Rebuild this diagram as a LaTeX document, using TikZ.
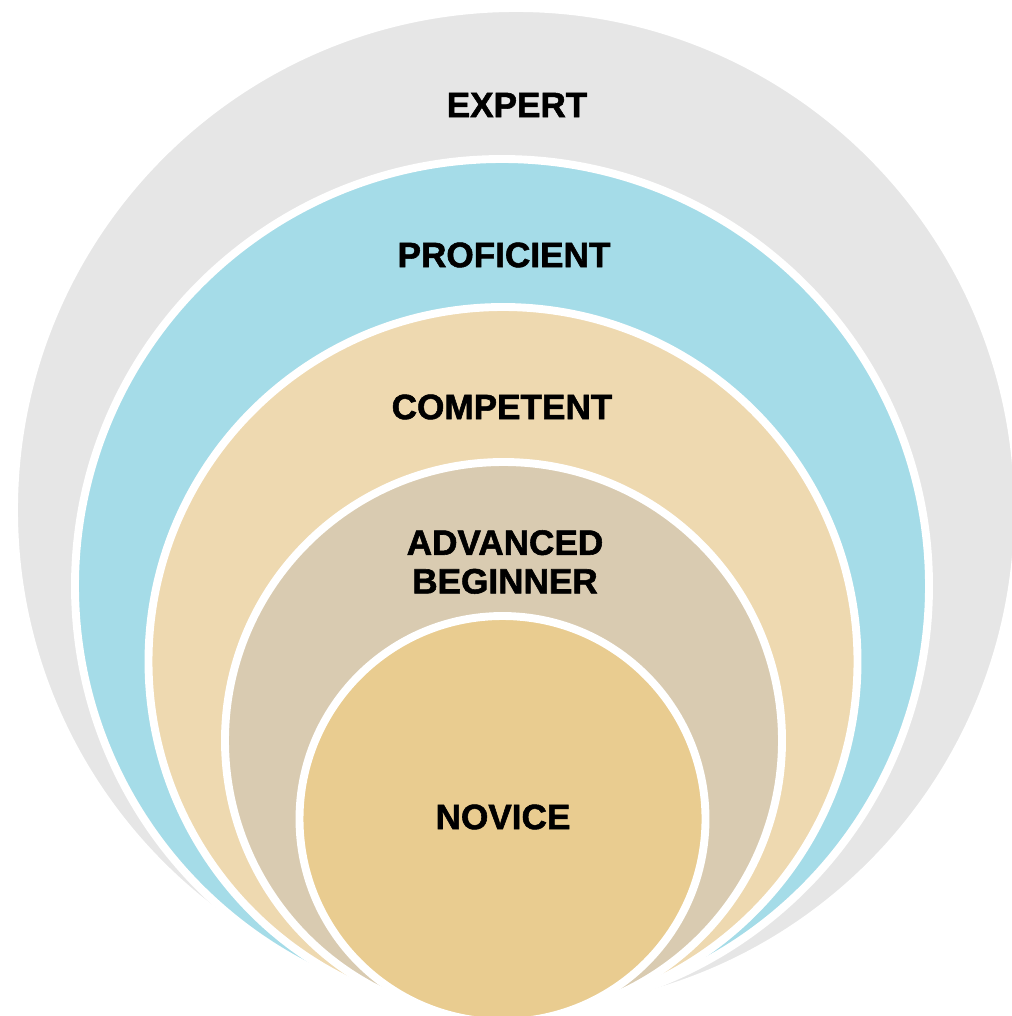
\documentclass[tikz,border=0pt]{standalone}
\usepackage{fontspec}
\setmainfont{Liberation Sans}[BoldFeatures={FakeBold=1.6}]
\usepackage{xcolor}

\definecolor{expertgray}{HTML}{E6E6E6}
\definecolor{proficientblue}{HTML}{A5DCE8}
\definecolor{competentbeige}{HTML}{EED9B0}
\definecolor{advancedlinen}{HTML}{D9CBB1}
\definecolor{novicegold}{HTML}{E9CC90}

\begin{document}
\begin{tikzpicture}[x={(0.02cm,0)},y={(0,-0.02cm)},ring/.style={draw=white,line width=4.5pt},lbl/.style={font=\bfseries\fontsize{20}{23}\selectfont,text=black,align=center,inner sep=0pt}]

            \useasboundingbox (0,0) rectangle (1011,1016);

            \fill[ring,fill=expertgray] (516,510) circle (502);
            \fill[ring,fill=proficientblue] (502,586) circle (427);
            \fill[ring,fill=competentbeige] (503,661.5) circle (354.5);
            \fill[ring,fill=advancedlinen] (503.5,740.5) circle (278.5);
            \fill[ring,fill=novicegold] (502.5,819) circle (203);

            \node[lbl] (expert) at (517,105) {EXPERT};
            \node[lbl] (proficient) at (504,255) {PROFICIENT};
            \node[lbl] (competent) at (502,407) {COMPETENT};
            \node[lbl] (advanced) at (505,562) {ADVANCED\\[-1pt]BEGINNER};
            \node[lbl] (novice) at (503,817) {NOVICE};

            ;
        \end{tikzpicture}
\end{document}
